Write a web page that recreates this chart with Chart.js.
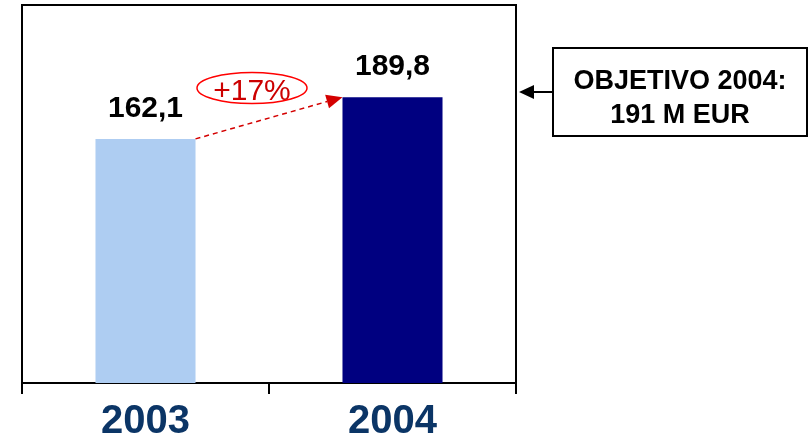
<!DOCTYPE html>
<html>
<head>
<meta charset="utf-8">
<script src="https://cdn.jsdelivr.net/npm/chart.js@4"></script>
<style>
  body { margin: 0; background: #fff; }
  canvas { display: block; }
</style>
</head>
<body>
<canvas id="chartVentas" width="810" height="437"></canvas>
<script>
const anos = ['2003', '2004'];
const valores = [162.1, 189.8];
const rotulos = ['162,1', '189,8'];
const crecimiento = '+17%';
const objetivo = ['OBJETIVO 2004:', '191 M EUR'];
const escalaMax = 251;

const fuente = '"Liberation Sans", Arial, sans-serif';

function flecha(c, x1, y1, x2, y2, largo, ancho, color, dash) {
  const ang = Math.atan2(y2 - y1, x2 - x1);
  const bx = x2 - Math.cos(ang) * largo;
  const by = y2 - Math.sin(ang) * largo;
  c.save();
  c.strokeStyle = color;
  c.fillStyle = color;
  c.lineWidth = dash ? 1.5 : 2;
  c.setLineDash(dash || []);
  c.beginPath();
  c.moveTo(x1, y1);
  c.lineTo(bx, by);
  c.stroke();
  c.setLineDash([]);
  c.beginPath();
  c.moveTo(x2, y2);
  c.lineTo(bx + Math.sin(ang) * ancho, by - Math.cos(ang) * ancho);
  c.lineTo(bx - Math.sin(ang) * ancho, by + Math.cos(ang) * ancho);
  c.closePath();
  c.fill();
  c.restore();
}

const extras = {
  id: 'extras',
  afterDraw(chart) {
    const c = chart.ctx;
    const a = chart.chartArea;
    const barras = chart.getDatasetMeta(0).data;

    // marco
    c.save();
    c.strokeStyle = '#000';
    c.lineWidth = 2;
    c.beginPath();
    c.moveTo(a.left, a.bottom);
    c.lineTo(a.left, a.top);
    c.lineTo(a.right, a.top);
    c.lineTo(a.right, a.bottom);
    c.stroke();

    // valores sobre las barras
    c.fillStyle = '#000';
    c.font = 'bold 30px ' + fuente;
    c.textAlign = 'center';
    c.textBaseline = 'alphabetic';
    barras.forEach((b, i) => c.fillText(rotulos[i], b.x, b.y - 22));
    c.restore();

    // flecha de crecimiento
    const b0 = barras[0], b1 = barras[1];
    const x1 = b0.x + b0.width / 2, y1 = b0.y;
    const x2 = b1.x - b1.width / 2, y2 = b1.y;
    flecha(c, x1, y1, x2, y2, 16, 7, '#d40000', [5, 4]);

    const ex = (x1 + x2) / 2 - 17, ey = (y1 + y2) / 2 - 30;
    c.save();
    c.strokeStyle = '#ff0000';
    c.lineWidth = 1.5;
    c.beginPath();
    c.ellipse(ex, ey, 55, 15.5, 0, 0, Math.PI * 2);
    c.stroke();
    c.fillStyle = '#cc0000';
    c.font = '30px ' + fuente;
    c.textAlign = 'center';
    c.textBaseline = 'alphabetic';
    c.fillText(crecimiento, ex, ey + 12);
    c.restore();

    // cuadro del objetivo
    c.save();
    c.strokeStyle = '#000';
    c.lineWidth = 2;
    c.strokeRect(553, 48, 254, 88);
    c.fillStyle = '#000';
    c.font = 'bold 27px ' + fuente;
    c.textAlign = 'center';
    c.textBaseline = 'alphabetic';
    c.fillText(objetivo[0], 680, 89);
    c.fillText(objetivo[1], 680, 123);
    c.restore();
    flecha(c, 553, 92, a.right + 3, 92, 15, 7, '#000', null);
  }
};

new Chart(document.getElementById('chartVentas'), {
  type: 'bar',
  data: {
    labels: anos,
    datasets: [{
      data: valores,
      backgroundColor: ['#aecdf2', '#000080'],
      borderWidth: 0,
      barPercentage: 0.405,
      categoryPercentage: 1
    }]
  },
  options: {
    responsive: false,
    animation: false,
    devicePixelRatio: 1,
    layout: { padding: { left: 22, top: 5, right: 294, bottom: 0 } },
    plugins: { legend: { display: false }, tooltip: { enabled: false } },
    scales: {
      y: { display: false, min: 0, max: escalaMax },
      x: {
        offset: true,
        afterFit(scale) { scale.height = 54; },
        border: { display: true, color: '#000', width: 2 },
        grid: {
          offset: true,
          drawOnChartArea: false,
          drawTicks: true,
          tickLength: 11,
          color: '#000',
          lineWidth: 2
        },
        ticks: {
          color: '#0b3566',
          padding: 4,
          font: { family: fuente, size: 40, weight: 'bold' }
        }
      }
    }
  },
  plugins: [extras]
});
</script>
</body>
</html>
